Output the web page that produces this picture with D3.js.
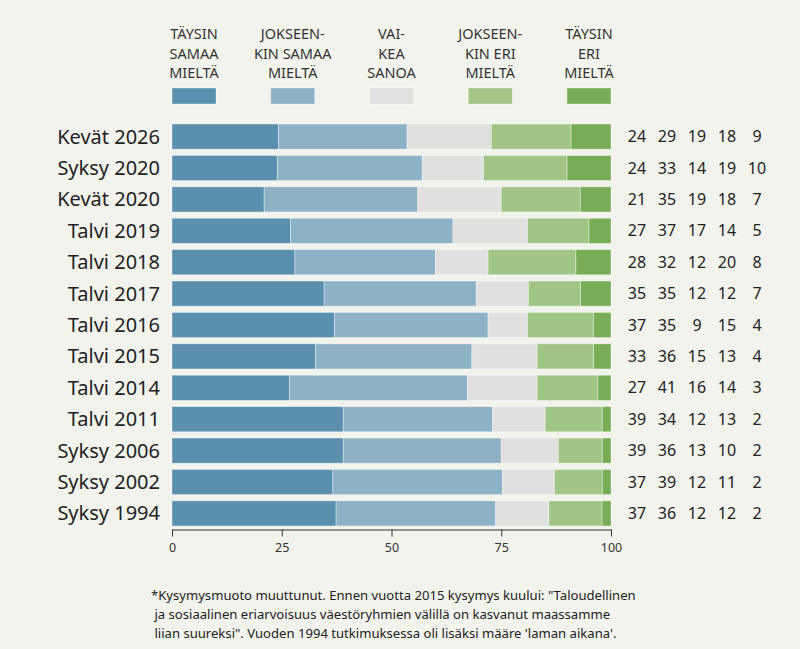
<!DOCTYPE html>
<html>
<head>
<meta charset="utf-8">
<script src="https://cdn.jsdelivr.net/npm/d3@7"></script>
<style>
  html, body { margin: 0; padding: 0; background: #f3f3ee; }
  svg { display: block; font-family: "Noto Sans", "Open Sans", sans-serif; }
</style>
</head>
<body>
<svg id="chart" width="800" height="649"></svg>
<script>
// ---- data ----
const categories = ["Kevät 2026", "Syksy 2020", "Kevät 2020", "Talvi 2019", "Talvi 2018", "Talvi 2017",
  "Talvi 2016", "Talvi 2015", "Talvi 2014", "Talvi 2011", "Syksy 2006", "Syksy 2002", "Syksy 1994"];
const seriesKeys = ["tsm", "jsm", "vs", "jem", "tem"];
const seriesLabels = [
  ["TÄYSIN", "SAMAA", "MIELTÄ"],
  ["JOKSEEN-", "KIN SAMAA", "MIELTÄ"],
  ["VAI-", "KEA", "SANOA"],
  ["JOKSEEN-", "KIN ERI", "MIELTÄ"],
  ["TÄYSIN", "ERI", "MIELTÄ"]
];
const taysinSamaa    = [24, 24, 21, 27, 28, 35, 37, 33, 27, 39, 39, 37, 37];
const jokseenkinSamaa= [29, 33, 35, 37, 32, 35, 35, 36, 41, 34, 36, 39, 36];
const vaikeaSanoa    = [19, 14, 19, 17, 12, 12,  9, 15, 16, 12, 13, 12, 12];
const jokseenkinEri  = [18, 19, 18, 14, 20, 12, 15, 13, 14, 13, 10, 11, 12];
const taysinEri      = [ 9, 10,  7,  5,  8,  7,  4,  4,  3,  2,  2,  2,  2];
const xTicks = [0, 25, 50, 75, 100];
const footnote = [
  "*Kysymysmuoto muuttunut. Ennen vuotta 2015 kysymys kuului: \"Taloudellinen",
  " ja sosiaalinen eriarvoisuus väestöryhmien välillä on kasvanut maassamme",
  " liian suureksi\". Vuoden 1994 tutkimuksessa oli lisäksi määre 'laman aikana'."
];
const colors = ["#5a8fae", "#8eb2c5", "#e0e0e0", "#a1c587", "#78ad57"];

const allSeries = [taysinSamaa, jokseenkinSamaa, vaikeaSanoa, jokseenkinEri, taysinEri];
const rows = categories.map((c, i) => {
  const r = { cat: c };
  seriesKeys.forEach((k, j) => r[k] = allSeries[j][i]);
  return r;
});

// ---- layout ----
const svg = d3.select("#chart");
const x = d3.scaleLinear().domain([0, 1]).range([172, 611]);
const y = d3.scaleBand().domain(categories).range([120.9, 529.1]).paddingInner(0.2).paddingOuter(0.1);
const color = d3.scaleOrdinal().domain(seriesKeys).range(colors);

const stacked = d3.stack().keys(seriesKeys).offset(d3.stackOffsetExpand)(rows);

// bars
svg.append("g").selectAll("g").data(stacked).join("g")
  .attr("fill", d => color(d.key))
  .selectAll("rect").data(d => d).join("rect")
  .attr("x", d => x(d[0]))
  .attr("y", d => y(d.data.cat))
  .attr("width", d => x(d[1]) - x(d[0]))
  .attr("height", y.bandwidth())
  .attr("stroke", "rgba(255,255,255,0.45)")
  .attr("stroke-width", 0.8);

// row labels
svg.append("g").selectAll("text").data(categories).join("text")
  .attr("x", 160)
  .attr("y", d => y(d) + y.bandwidth() / 2)
  .attr("dy", "0.35em")
  .attr("text-anchor", "end")
  .attr("font-size", 20)
  .attr("fill", "#222")
  .text(d => d);

// value columns
const colX = d3.scalePoint().domain(seriesKeys).range([637, 757]);
const vg = svg.append("g");
rows.forEach(r => {
  seriesKeys.forEach(k => {
    vg.append("text")
      .attr("x", colX(k))
      .attr("y", y(r.cat) + y.bandwidth() / 2)
      .attr("dy", "0.35em")
      .attr("text-anchor", "middle")
      .attr("font-size", 16)
      .attr("fill", "#222")
      .text(r[k]);
  });
});

// x axis
const axis = d3.axisBottom(x)
  .tickValues(xTicks.map(v => v / 100))
  .tickFormat(d => d3.format("d")(d * 100))
  .tickSizeInner(7).tickSizeOuter(0).tickPadding(7);
const ag = svg.append("g").attr("transform", "translate(0,529.5)").call(axis);
ag.select(".domain").attr("stroke", "#333");
ag.selectAll(".tick line").attr("stroke", "#333");
ag.selectAll(".tick text").attr("font-size", 12.5).attr("fill", "#333")
  .attr("font-family", "\"Noto Sans\", sans-serif");

// legend
const legX = d3.scalePoint().domain(seriesKeys).range([194, 589]);
const lg = svg.append("g");
seriesKeys.forEach((k, i) => {
  lg.append("rect")
    .attr("x", legX(k) - 22).attr("y", 88)
    .attr("width", 44).attr("height", 16)
    .attr("fill", color(k))
    .attr("stroke", "rgba(255,255,255,0.45)").attr("stroke-width", 0.8);
  seriesLabels[i].forEach((line, j) => {
    lg.append("text")
      .attr("x", legX(k))
      .attr("y", 39 + j * 19.5)
      .attr("text-anchor", "middle")
      .attr("font-size", 14.5)
      .attr("fill", "#333")
      .text(line);
  });
});

// footnote
svg.append("g").selectAll("text").data(footnote).join("text")
  .attr("x", 151)
  .attr("y", (d, i) => 600 + i * 19)
  .attr("font-size", 13.1)
  .attr("fill", "#222")
  .attr("xml:space", "preserve")
  .style("white-space", "pre")
  .text(d => d);
</script>
</body>
</html>
